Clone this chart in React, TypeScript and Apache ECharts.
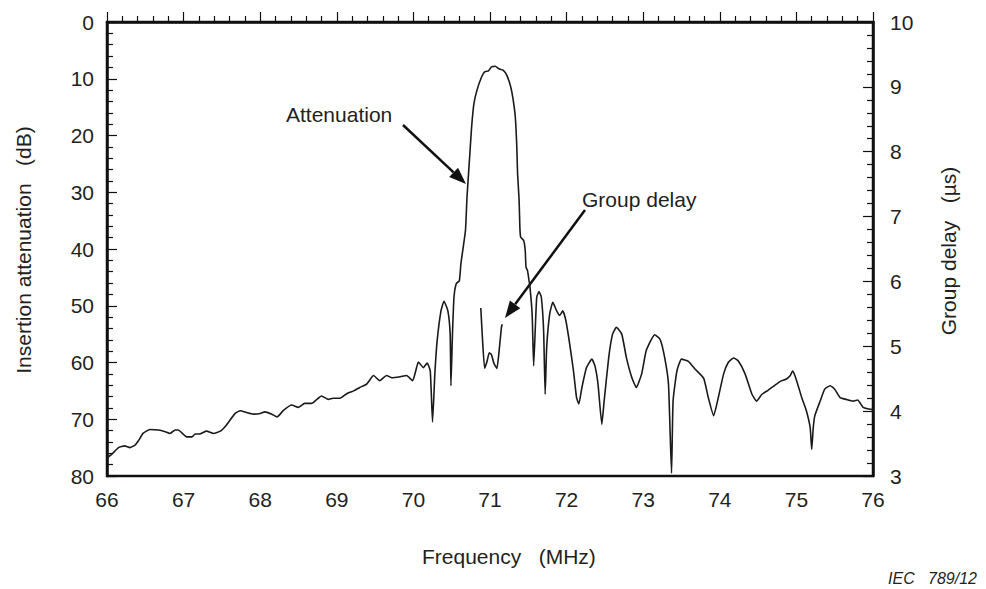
import React, { useEffect, useRef } from "react";
import * as echarts from "echarts";

// Attenuation curve (left axis, dB, inverted)
const attFreq = [66.0, 66.06, 66.15, 66.23, 66.30, 66.37, 66.41, 66.47, 66.56, 66.67, 66.76, 66.82, 66.89, 66.93, 67.04, 67.11, 67.15, 67.21, 67.30, 67.39, 67.48, 67.56, 67.67, 67.74, 67.82, 67.91, 68.0, 68.06, 68.15, 68.22, 68.30, 68.41, 68.50, 68.58, 68.67, 68.74, 68.80, 68.89, 68.95, 69.04, 69.13, 69.22, 69.30, 69.39, 69.48, 69.56, 69.65, 69.72, 69.83, 69.91, 69.99, 70.03, 70.065, 70.13, 70.18, 70.22, 70.25, 70.28, 70.31, 70.36, 70.40, 70.45, 70.48, 70.49, 70.51, 70.53, 70.56, 70.60, 70.62, 70.65, 70.68, 70.70, 70.72, 70.74, 70.76, 70.79, 70.83, 70.89, 70.93, 70.98, 71.02, 71.07, 71.11, 71.17, 71.22, 71.27, 71.30, 71.33, 71.35, 71.36, 71.38, 71.39, 71.40, 71.44, 71.46, 71.47, 71.49, 71.51, 71.52, 71.55, 71.57, 71.59, 71.61, 71.64, 71.67, 71.70, 71.72, 71.74, 71.78, 71.82, 71.87, 71.91, 71.95, 71.99, 72.04, 72.09, 72.13, 72.16, 72.20, 72.26, 72.33, 72.37, 72.41, 72.46, 72.49, 72.55, 72.60, 72.65, 72.72, 72.78, 72.85, 72.91, 72.98, 73.04, 73.15, 73.22, 73.28, 73.33, 73.37, 73.39, 73.44, 73.50, 73.59, 73.68, 73.79, 73.85, 73.92, 73.98, 74.05, 74.11, 74.18, 74.24, 74.33, 74.42, 74.48, 74.55, 74.63, 74.74, 74.81, 74.87, 74.92, 74.95, 74.98, 75.03, 75.07, 75.13, 75.18, 75.20, 75.22, 75.24, 75.31, 75.37, 75.44, 75.50, 75.57, 75.65, 75.74, 75.80, 75.87, 75.95, 76.0];
const attDb = [76.8, 76.2, 75.0, 74.7, 75.0, 74.5, 73.8, 72.5, 71.8, 71.9, 72.2, 72.5, 71.9, 71.9, 73.1, 73.1, 72.6, 72.6, 72.1, 72.5, 72.1, 71.0, 69.0, 68.5, 68.8, 69.1, 69.0, 68.7, 69.1, 69.6, 68.5, 67.5, 67.9, 67.2, 67.2, 66.5, 65.9, 66.5, 66.3, 66.3, 65.5, 65.0, 64.4, 63.8, 62.3, 63.2, 62.3, 62.7, 62.5, 62.3, 63.2, 61.5, 59.9, 60.9, 60.1, 61.5, 70.5, 62.0, 56.2, 50.9, 49.2, 50.9, 55.0, 64.1, 55.0, 48.5, 46.1, 45.6, 42.6, 39.7, 36.7, 30.8, 26.7, 22.6, 18.5, 14.4, 12.0, 9.7, 8.8, 8.6, 7.9, 7.8, 8.2, 8.5, 9.4, 11.4, 13.5, 16.7, 22.0, 26.7, 31.4, 36.2, 37.9, 38.5, 40.3, 43.2, 43.8, 45.6, 46.4, 51.4, 60.6, 54.4, 48.5, 47.5, 48.5, 54.4, 65.6, 57.3, 51.4, 49.4, 50.9, 51.7, 50.9, 52.6, 56.7, 61.5, 66.2, 67.3, 64.4, 60.9, 59.4, 60.6, 63.8, 70.9, 66.8, 59.1, 55.0, 53.8, 55.0, 59.1, 62.6, 64.4, 62.0, 57.9, 55.1, 55.9, 59.1, 63.8, 79.5, 66.8, 61.5, 59.4, 59.8, 61.2, 62.8, 66.2, 69.4, 66.2, 62.0, 60.0, 59.2, 59.7, 62.0, 65.6, 66.8, 65.6, 64.9, 63.8, 63.2, 62.9, 62.3, 61.5, 62.3, 64.4, 66.2, 68.5, 71.5, 75.3, 71.5, 69.4, 66.8, 64.7, 64.1, 64.7, 66.2, 66.5, 66.8, 66.6, 67.9, 68.2, 68.3];

// Group delay fragment (right axis, µs)
const gdFreq = [70.88, 70.90, 70.93, 70.96, 70.99, 71.02, 71.05, 71.09, 71.12, 71.15, 71.16];
const gdUs = [5.59, 5.15, 4.66, 4.76, 4.90, 4.87, 4.74, 4.66, 4.94, 5.30, 5.34];

const FONT = "Liberation Sans, Arial, sans-serif";
const TXT = "#231f20";

function arrow(x1: number, y1: number, x2: number, y2: number) {
  const ang = Math.atan2(y2 - y1, x2 - x1);
  const L = 17, W = 6.5;
  const bx = x2 - L * Math.cos(ang), by = y2 - L * Math.sin(ang);
  const px = -Math.sin(ang) * W, py = Math.cos(ang) * W;
  return [
    { type: "line", shape: { x1, y1, x2: bx, y2: by }, style: { stroke: "#111", lineWidth: 2.5 } },
    { type: "polygon", shape: { points: [[x2, y2], [bx + px, by + py], [bx - px, by - py]] }, style: { fill: "#111" } },
  ];
}

export default function App() {
  const ref = useRef<HTMLDivElement>(null);
  useEffect(() => {
    document.body.style.margin = "0";
    const chart = echarts.init(ref.current!, null, { renderer: "svg" });
    const att = attFreq.map((f, i) => [f, attDb[i]]);
    const gd = gdFreq.map((f, i) => [f, gdUs[i]]);
    const axisCommon = {
      axisLine: { show: true, lineStyle: { color: "#111", width: 2.5 } },
      splitLine: { show: false },
      axisLabel: { fontSize: 21, color: TXT, fontFamily: FONT },
    };
    chart.setOption({
      animation: false,
      backgroundColor: "#fff",
      grid: { left: 107, right: 113, top: 22, bottom: 113, show: true, borderColor: "#111", borderWidth: 2.5, backgroundColor: "transparent" },
      xAxis: {
        type: "value", min: 66, max: 76, interval: 1,
        ...axisCommon,
        axisLabel: { ...axisCommon.axisLabel, margin: 13 },
        axisTick: { show: true, inside: true, length: 10, lineStyle: { color: "#111", width: 1.2 } },
        minorTick: { show: true, splitNumber: 5, length: 6, lineStyle: { color: "#111", width: 1.2 } },
      },
      yAxis: [
        {
          type: "value", min: 0, max: 80, interval: 10, inverse: true, position: "left",
          ...axisCommon,
          axisLabel: { ...axisCommon.axisLabel, margin: 13 },
          axisTick: { show: true, inside: true, length: 10, lineStyle: { color: "#111", width: 1.2 } },
          minorTick: { show: true, splitNumber: 5, length: 6, lineStyle: { color: "#111", width: 1.2 } },
        },
        {
          type: "value", min: 3, max: 10, interval: 1, position: "right",
          ...axisCommon,
          axisLabel: { ...axisCommon.axisLabel, margin: 17 },
          axisTick: { show: true, inside: true, length: 10, lineStyle: { color: "#111", width: 1.2 } },
          minorTick: { show: true, splitNumber: 5, length: 6, lineStyle: { color: "#111", width: 1.2 } },
        },
      ],
      series: [
        {
          name: "Attenuation", type: "line", data: att, yAxisIndex: 0, showSymbol: false,
          lineStyle: { color: "#1a1a1a", width: 1.6 }, smooth: 0.15,
        },
        {
          name: "Group delay", type: "line", data: gd, yAxisIndex: 1, showSymbol: false,
          lineStyle: { color: "#1a1a1a", width: 1.6 }, smooth: 0.15,
        },
      ],
      graphic: [
        { type: "text", x: 23, y: 250, rotation: Math.PI / 2, style: { text: "Insertion attenuation   (dB)", fontSize: 21, fontFamily: FONT, fill: TXT, align: "center", verticalAlign: "middle" } },
        { type: "text", x: 948, y: 251, rotation: Math.PI / 2, style: { text: "Group delay   (µs)", fontSize: 21, fontFamily: FONT, fill: TXT, align: "center", verticalAlign: "middle" } },
        { type: "text", x: 422, y: 556, style: { text: "Frequency   (MHz)", fontSize: 21, fontFamily: FONT, fill: TXT, align: "left", verticalAlign: "middle" } },
        { type: "text", x: 977, y: 578, style: { text: "IEC   789/12", fontSize: 16, fontStyle: "italic", fontFamily: FONT, fill: TXT, align: "right", verticalAlign: "middle" } },
        { type: "text", x: 286, y: 114, style: { text: "Attenuation", fontSize: 21, fontFamily: FONT, fill: TXT, align: "left", verticalAlign: "middle" } },
        { type: "text", x: 582, y: 199, style: { text: "Group delay", fontSize: 21, fontFamily: FONT, fill: TXT, align: "left", verticalAlign: "middle" } },
        ...arrow(403, 125, 466, 184),
        ...arrow(585, 210, 505, 318),
      ],
    });
    return () => chart.dispose();
  }, []);
  return <div ref={ref} style={{ width: 986, height: 589, position: "absolute", left: 0, top: 0 }} />;
}
